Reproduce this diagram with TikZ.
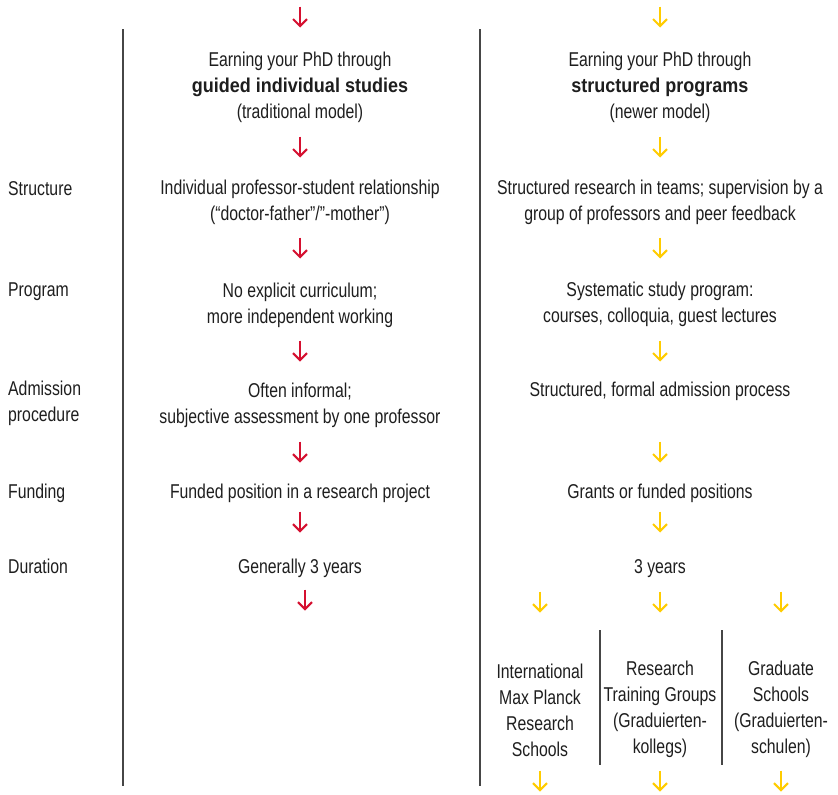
\documentclass[tikz,border=0pt]{standalone}
\usepackage{fontspec}
\setmainfont{Liberation Sans}[FakeStretch=0.79]
\newfontfamily\boldfam{Liberation Sans}[FakeStretch=0.9]
\usetikzlibrary{arrows.meta}
\definecolor{arrred}{RGB}{213,16,48}
\definecolor{arryel}{RGB}{255,204,0}
\definecolor{txtc}{RGB}{30,30,30}
\definecolor{rulec}{RGB}{70,70,70}
\begin{document}
\begin{tikzpicture}[x=1pt,y=-1pt,
  txtnode/.style={text=txtc, font=\fontsize{20}{26}\selectfont, inner sep=0pt, align=center, anchor=base},
  lbl/.style={txtnode, align=left, anchor=base west},
  redarr/.style={draw=arrred, line width=2pt, -{Straight Barb[length=7pt,width=14pt]}},
  yelarr/.style={draw=arryel, line width=2pt, -{Straight Barb[length=7pt,width=14pt]}},
  rulel/.style={draw=rulec, line width=1.2pt}
]
\useasboundingbox[fill=white] (0,0) rectangle (838,795);

% vertical rules
\draw[rulel] (123,29) -- (123,786);
\draw[rulel] (480,29) -- (480,786);
\draw[rulel] (600,630) -- (600,765);
\draw[rulel] (722,630) -- (722,765);

% headers (base anchor = baseline of last line)
\node[txtnode] (h1) at (300,118) {Earning your PhD through\\{\boldfam\bfseries guided individual studies}\\(traditional model)};
\node[txtnode] (h2) at (660,118) {Earning your PhD through\\{\boldfam\bfseries structured programs}\\(newer model)};

% rows
\node[lbl] (lstruct) at (8,195) {Structure};
\node[txtnode] (s1) at (300,220) {Individual professor-student relationship\\(“doctor-father”/”-mother”)};
\node[txtnode] (s2) at (660,220) {Structured research in teams; supervision by a\\group of professors and peer feedback};

\node[lbl] (lprog) at (8,296) {Program};
\node[txtnode] (p1) at (300,323) {No explicit curriculum;\\more independent working};
\node[txtnode] (p2) at (660,322) {Systematic study program:\\courses, colloquia, guest lectures};

\node[lbl] (ladm) at (8,421) {Admission\\procedure};
\node[txtnode] (a1) at (300,423) {Often informal;\\subjective assessment by one professor};
\node[txtnode] (a2) at (660,396) {Structured, formal admission process};

\node[lbl] (lfund) at (8,498) {Funding};
\node[txtnode] (f1) at (300,498) {Funded position in a research project};
\node[txtnode] (f2) at (660,498) {Grants or funded positions};

\node[lbl] (ldur) at (8,573) {Duration};
\node[txtnode] (d1) at (300,573) {Generally 3 years};
\node[txtnode] (d2) at (660,573) {3 years};

\node[txtnode] (g1) at (540,756) {International\\Max Planck\\Research\\Schools};
\node[txtnode] (g2) at (660,753) {Research\\Training Groups\\(Graduierten-\\kollegs)};
\node[txtnode] (g3) at (781,753) {Graduate\\Schools\\(Graduierten-\\schulen)};

% arrows
\foreach \c in {17,147,248,351,452,522}{
  \draw[redarr] (300,\c-10.5) -- (300,\c+10.5);
  \draw[yelarr] (660,\c-10.5) -- (660,\c+10.5);
}
\draw[redarr] (305,589.5) -- (305,610.5);
\foreach \x in {540,660,781}{
  \draw[yelarr] (\x,591.5) -- (\x,612.5);
  \draw[yelarr] (\x,770.5) -- (\x,791.5);
}
\end{tikzpicture}
\end{document}
